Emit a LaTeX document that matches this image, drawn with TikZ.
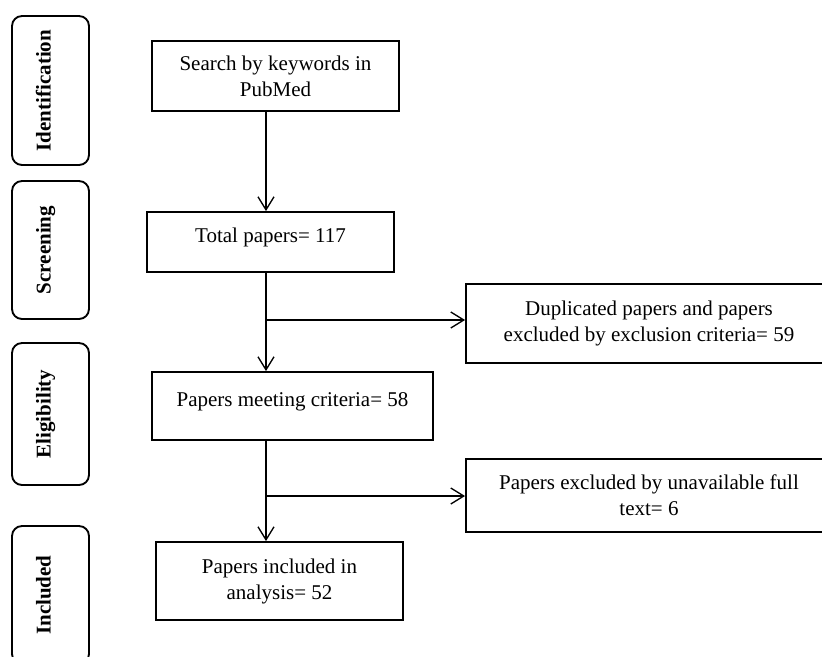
\documentclass[tikz,border=0pt]{standalone}
\usepackage{fontspec}
\setmainfont{Liberation Serif}
\usetikzlibrary{arrows.meta}
\tikzset{
  stage/.style={draw, line width=1.4pt, align=center, font=\fontsize{15.75}{19.5}\selectfont},
  phase/.style={draw, line width=1.4pt, rounded corners=7.5pt, rotate=90,
    minimum height=57.75pt, text height=0pt, text depth=0pt,
    font=\fontsize{15.75}{19.5}\selectfont\bfseries},
  flow/.style={line width=1pt, -{Straight Barb[length=9.75pt,width=12pt,line width=1pt]}}
}
\begin{document}
\begin{tikzpicture}[x=0.75pt,y=-0.75pt]
      \useasboundingbox (0,0) rectangle (822,657);
      \clip (0,0) rectangle (822,657);
      \node[phase, minimum width=111.75pt] (p1) at (50.5,90.5) {Identification};
      \node[phase, minimum width=103.5pt] (p2) at (50.5,250) {Screening};
      \node[phase, minimum width=106.5pt] (p3) at (50.5,414) {Eligibility};
      \node[phase, minimum width=103.5pt] (p4) at (50.5,595) {Included};
      \node[stage, minimum width=185.25pt, minimum height=52.5pt] (search) at (275.5,76)
        {Search by keywords in\\PubMed};
      \node[stage, minimum width=185.25pt, minimum height=45pt, text depth=9.5pt] (total) at (270.5,242)
        {Total papers= 117};
      \node[stage, minimum width=274.5pt, minimum height=59.25pt] (dup) at (649,323.5)
        {Duplicated papers and papers\\excluded by exclusion criteria= 59};
      \node[stage, minimum width=210.75pt, minimum height=51pt, text depth=9.5pt] (meet) at (292.5,406)
        {Papers meeting criteria= 58};
      \node[stage, minimum width=274.5pt, minimum height=54.75pt] (unav) at (649,495.5)
        {Papers excluded by unavailable full\\text= 6};
      \node[stage, minimum width=185.25pt, minimum height=58.5pt] (incl) at (279.5,581)
        {Papers included in\\analysis= 52};
      \coordinate (spine) at (266,0);
      \coordinate (b1) at (266,320);
      \coordinate (b2) at (266,496);
      \begin{scope}[flow]
        \draw (search.south -| spine) to (total.north -| spine);
        \draw (total.south -| spine) to (meet.north -| spine);
        \draw (b1) to (b1 -| dup.west);
        \draw (meet.south -| spine) to (incl.north -| spine);
        \draw (b2) to (b2 -| unav.west);
      \end{scope}
    \end{tikzpicture}
\end{document}
